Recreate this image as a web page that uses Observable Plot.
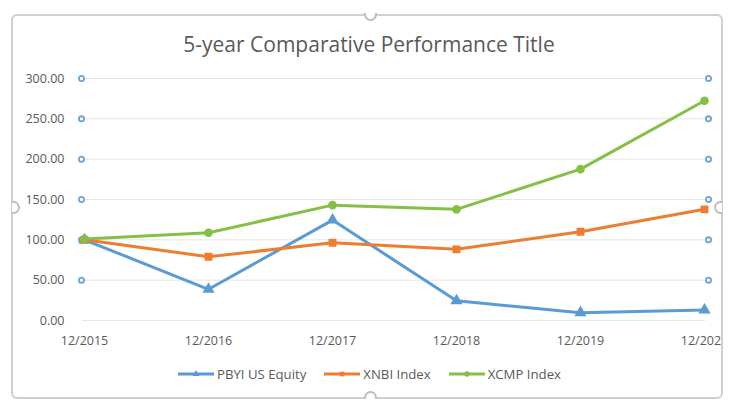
<!DOCTYPE html>
<html>
<head>
<meta charset="utf-8">
<script src="https://cdn.jsdelivr.net/npm/d3@7"></script>
<script src="https://cdn.jsdelivr.net/npm/@observablehq/plot@0.6"></script>
<style>
  html, body { margin: 0; padding: 0; background: #fff; }
  body { width: 730px; height: 403px; position: relative; overflow: hidden; font-family: "Open Sans", sans-serif; color: #595959; }
  #frame { position: absolute; left: 11px; top: 14px; width: 712px; height: 385px; box-sizing: border-box; border: 2px solid #cfcfcf; border-radius: 6px; }
  .handle { position: absolute; box-sizing: border-box; border: 2px solid #bdbdbd; background: #fff; }
  #title { position: absolute; top: 30px; left: 0; width: 738px; text-align: center; font-size: 21px; color: #595959; white-space: nowrap; }
  #plotwrap { position: absolute; left: 0; top: 60px; width: 730px; height: 300px; clip-path: inset(0 9px 0 0); }
  #plotwrap svg { max-width: none; }
  #legend { position: absolute; top: 365px; left: 178px; display: flex; font-size: 13.2px; color: #595959; }
  #legend .item { display: flex; align-items: center; gap: 3px; margin-right: 18px; }
</style>
</head>
<body>
<div id="frame"></div>
<div class="handle" style="left:364px; top:13px; width:13px; height:8px; border-top:none; border-radius:0 0 7px 7px;"></div>
<div class="handle" style="left:12px; top:201px; width:8px; height:13px; border-left:none; border-radius:0 7px 7px 0;"></div>
<div class="handle" style="left:714px; top:201px; width:8px; height:13px; border-right:none; border-radius:7px 0 0 7px;"></div>
<div class="handle" style="left:364px; top:391px; width:13px; height:8px; border-bottom:none; border-radius:7px 7px 0 0;"></div>
<div id="title">5-year Comparative Performance Title</div>
<div id="plotwrap"></div>
<div id="legend"></div>
<script>
const categories = ["12/2015", "12/2016", "12/2017", "12/2018", "12/2019", "12/2020"];
const seriesNames = ["PBYI US Equity", "XNBI Index", "XCMP Index"];
const pbyi = [100, 38.7, 124.5, 24.5, 9.7, 13];
const xnbi = [100, 79, 96.4, 88.2, 110, 137.8];
const xcmp = [101, 108.8, 143, 137.8, 187.7, 272.4];
const yTicks = [0, 50, 100, 150, 200, 250, 300];
const sideMarkerValues = [50, 100, 150, 200, 250, 300];
const seriesColors = ["#5b9bd5", "#ed7d31", "#84c044"];
const seriesSymbols = ["triangle", "square", "circle"];

const seriesValues = [pbyi, xnbi, xcmp];
const rows = [];
seriesNames.forEach((s, i) => {
  categories.forEach((c, j) => rows.push({series: s, cat: c, value: seriesValues[i][j]}));
});
const leftMarks = sideMarkerValues.map(v => ({cat: categories[0], value: v}));
const rightMarks = sideMarkerValues.map(v => ({cat: categories[categories.length - 1], value: v}));

const chart = Plot.plot({
  width: 730,
  height: 300,
  marginLeft: 82,
  marginRight: 25,
  marginTop: 18,
  marginBottom: 40,
  style: {fontFamily: "Open Sans, sans-serif", fontSize: "12px", color: "#595959", background: "transparent"},
  x: {type: "point", domain: categories, padding: 0},
  y: {domain: [0, 300]},
  color: {domain: seriesNames, range: seriesColors},
  symbol: {domain: seriesNames, range: seriesSymbols},
  marks: [
    Plot.ruleY(yTicks, {stroke: "#e6e6e6", strokeWidth: 1}),
    Plot.axisY(yTicks, {tickSize: 0, tickPadding: 18, tickFormat: d => d.toFixed(2), label: null, fontSize: 12.5, color: "#595959"}),
    Plot.axisX({tickSize: 0, tickPadding: 16, label: null, fontSize: 12.5, color: "#595959"}),
    Plot.dot(leftMarks, {x: "cat", y: "value", r: 2.6, stroke: "#6fa3d6", strokeWidth: 1.8, fill: "white", dx: -3}),
    Plot.dot(rightMarks, {x: "cat", y: "value", r: 2.6, stroke: "#6fa3d6", strokeWidth: 1.8, fill: "white", dx: 4}),
    Plot.line(rows, {x: "cat", y: "value", z: "series", stroke: "series", strokeWidth: 3}),
    Plot.dot(rows, {x: "cat", y: "value", symbol: "series", fill: "series", stroke: "series", r: 3.6})
  ]
});
document.getElementById("plotwrap").appendChild(chart);

const legend = document.getElementById("legend");
seriesNames.forEach((s, i) => {
  const item = document.createElement("div");
  item.className = "item";
  const sym = d3.symbol(i === 0 ? d3.symbolTriangle : i === 1 ? d3.symbolSquare : d3.symbolCircle, 22)();
  item.innerHTML = `<svg width="36" height="10"><line x1="0" y1="5" x2="36" y2="5" stroke="${seriesColors[i]}" stroke-width="3"/><path d="${sym}" transform="translate(18,5)" fill="${seriesColors[i]}"/></svg><span>${s}</span>`;
  legend.appendChild(item);
});
</script>
</body>
</html>
